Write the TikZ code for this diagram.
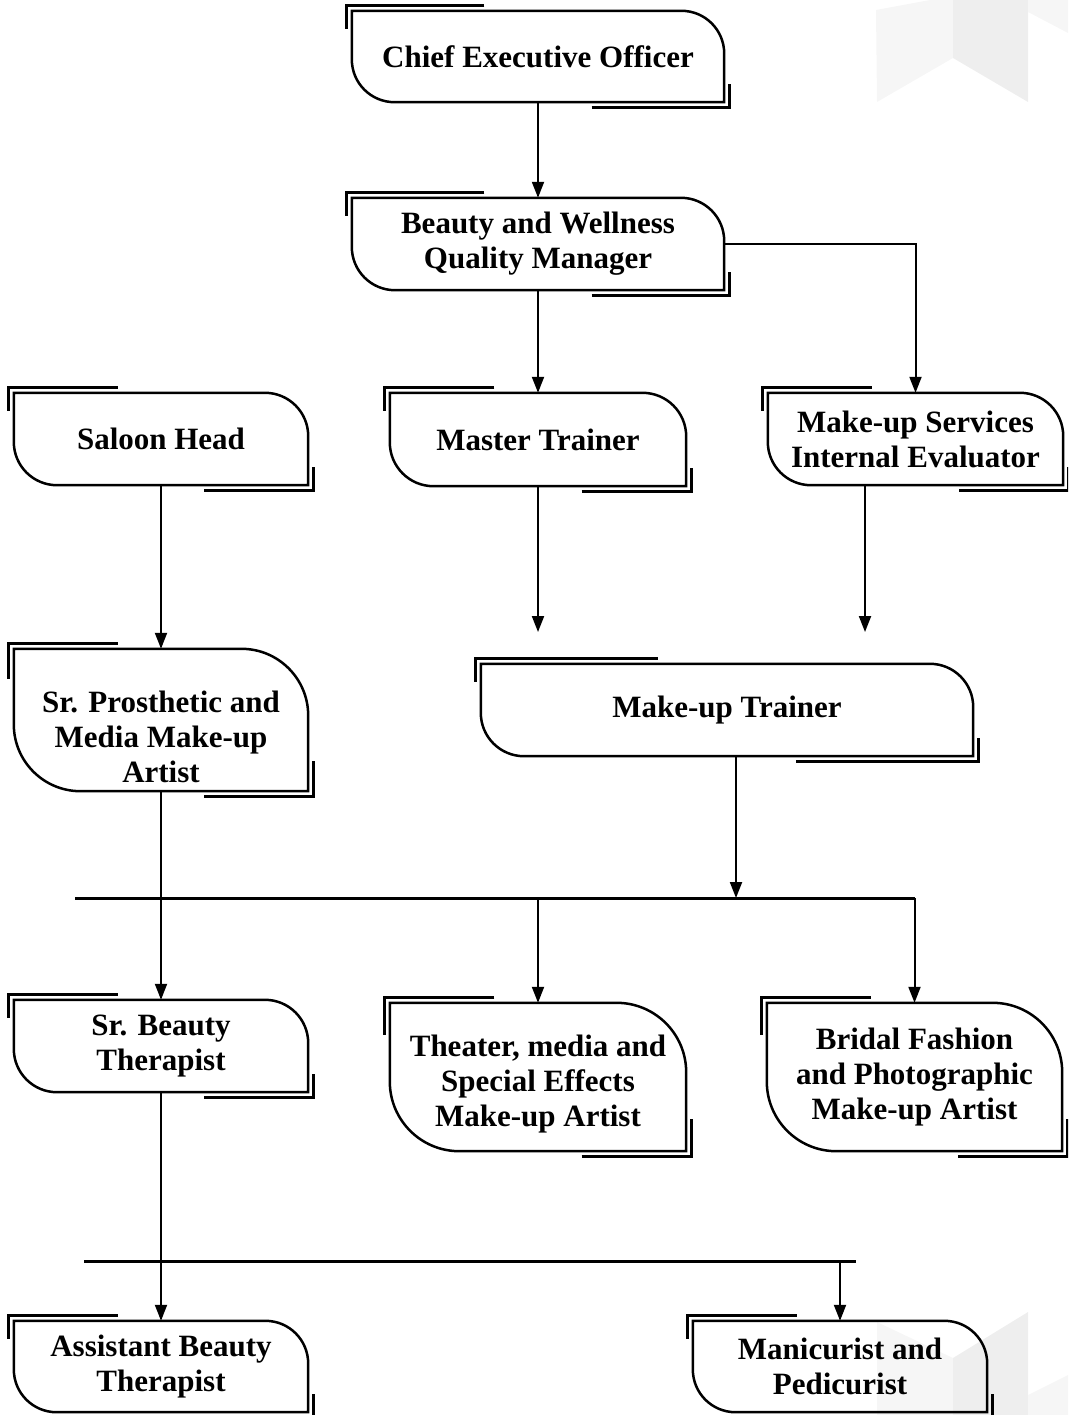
\documentclass[tikz,border=0pt]{standalone}
\usepackage{fontspec}
\setmainfont{Liberation Serif}
\usetikzlibrary{arrows.meta,calc}

\definecolor{wmlight}{HTML}{F6F6F6}
\definecolor{wmdark}{HTML}{EEEEEE}

\tikzset{
  card/.style={inner sep=0pt,align=center,font=\fontsize{31}{35}\selectfont\bfseries},
  frame/.style={line width=2.5pt},
  corner/.style={line width=3pt},
  post/.style={line width=2pt,-{Triangle[length=16pt,width=12pt]}},
  bus/.style={line width=3pt}
}

\begin{document}
\begin{tikzpicture}[x=1pt,y=-1pt]
    \useasboundingbox (0,0) rectangle (1068,1415);
    \clip (0,0) rectangle (1068,1415);

    % faint background marks
    \fill [wmlight] (876,10) -- (930,0) -- (953,0) -- (953,58) -- (877,102) --cycle;
    \fill [wmdark] (953,0) -- (1028,0) -- (1028,102) -- (953,58) --cycle;
    \fill [wmlight] (1028,0) -- (1068,0) -- (1068,33) -- (1028,12) --cycle;
    \fill [wmlight] (877,1322) -- (953,1358) -- (953,1415) -- (877,1415) --cycle;
    \fill [wmdark] (953,1358) -- (1028,1312) -- (1028,1415) -- (953,1415) --cycle;
    \fill [wmlight] (1028,1395) -- (1068,1375) -- (1068,1415) -- (1028,1415) --cycle;

    % boxes
    \node [card,minimum width=372pt,minimum height=91pt] (ceo) at (538,56.5) {Chief Executive Officer};
    \node [card,minimum width=372pt,minimum height=92pt] (bwqm) at (538,244) {Beauty and Wellness\\Quality Manager};
    \node [card,minimum width=294pt,minimum height=92pt] (sh) at (161,439) {Saloon Head};
    \node [card,minimum width=296pt,minimum height=93pt] (mt) at (538,439.5) {Master Trainer};
    \node [card,minimum width=295pt,minimum height=92pt] (mse) at (915.5,439) {Make-up Services\\Internal Evaluator};
    \node [card,minimum width=294pt,minimum height=142pt] (spm) at (161,720) {\rule{0pt}{56pt}Sr. Prosthetic and\\Media Make-up\\Artist};
    \node [card,minimum width=492pt,minimum height=92pt] (mut) at (727,710) {Make-up Trainer};
    \node [card,minimum width=294pt,minimum height=92pt] (sbt) at (161,1046) {Sr. Beauty\\Therapist};
    \node [card,minimum width=296pt,minimum height=148pt] (tma) at (538,1077) {\rule{0pt}{36pt}Theater, media and\\Special Effects\\Make-up Artist};
    \node [card,minimum width=295pt,minimum height=148pt] (bfa) at (914.5,1077) {Bridal Fashion\\and Photographic\\Make-up Artist};
    \node [card,minimum width=294pt,minimum height=91pt] (abt) at (161,1366.5) {Assistant Beauty\\Therapist};
    \node [card,minimum width=294pt,minimum height=91pt] (mp) at (840,1366.5) {Manicurist and\\Pedicurist};

    % outlines and corner strokes
    \foreach \n/\w/\h in {ceo/372/91,bwqm/372/92,sh/294/92,mt/296/93,mse/295/92,spm/294/142,
                          mut/492/92,sbt/294/92,tma/296/148,bfa/295/148,abt/294/91,mp/294/91} {
        \pgfmathsetmacro\rad{0.47*\h}
        \pgfmathsetmacro\hx{0.37*\w-5}
        \pgfmathsetmacro\vy{0.25*\h-5}
        \draw [frame] (\n.north west) -- ([xshift=-\rad pt]\n.north east)
            arc [start angle=90,end angle=0,radius=\rad pt] -- (\n.south east)
            -- ([xshift=\rad pt]\n.south west)
            arc [start angle=270,end angle=180,radius=\rad pt] --cycle;
        \draw [corner] ([shift={(\hx pt,5pt)}]\n.north west) -- ([shift={(-5pt,5pt)}]\n.north west)
            -- ([shift={(-5pt,-\vy pt)}]\n.north west);
        \draw [corner] ([shift={(-\hx pt,-5pt)}]\n.south east) -- ([shift={(5pt,-5pt)}]\n.south east)
            -- ([shift={(5pt,\vy pt)}]\n.south east);
    }

    % free ends and bus lines
    \coordinate (mtend) at (538,632);
    \coordinate (mseend) at (865,632);
    \coordinate (mutbus) at (736,898);
    \coordinate (busL) at (75,898);
    \coordinate (bus2L) at (84,1261);
    \coordinate (bus2R) at (856,1261);

    % connectors
    \draw [post] (ceo.south) -- (bwqm.north);
    \draw [post] (bwqm.south) -- (mt.north);
    \draw [post] (bwqm.east) -| (mse.north);
    \draw [post] (sh.south) -- (spm.north);
    \draw [post] (mt.south) -- (mtend);
    \draw [post] (mse.south -| mseend) -- (mseend);
    \draw [post] (mut.south -| mutbus) -- (mutbus);
    \draw [bus] (busL) -- (bfa.north |- busL);
    \draw [post] (tma.north |- busL) -- (tma.north);
    \draw [post] (bfa.north |- busL) -- (bfa.north);
    \draw [post] (spm.south) -- (sbt.north);
    \draw [post] (sbt.south) -- (abt.north);
    \draw [bus] (bus2L) -- (bus2R);
    \draw [post] (mp.north |- bus2L) -- (mp.north);
\end{tikzpicture}
\end{document}
